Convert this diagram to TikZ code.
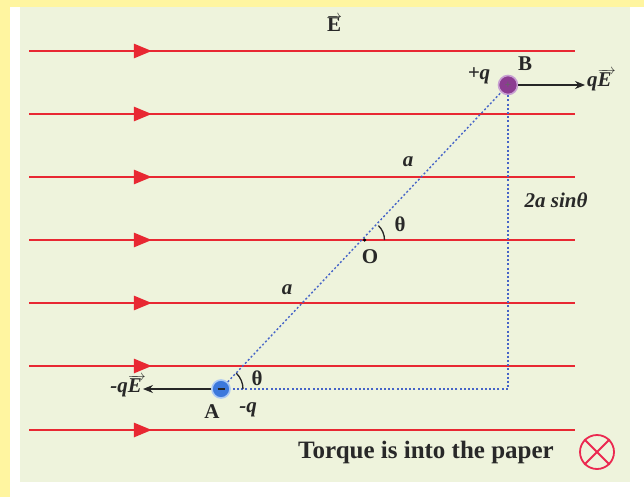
\documentclass[tikz,border=0pt]{standalone}
\usepackage{fontspec}
\setmainfont{Liberation Serif}
\usetikzlibrary{arrows.meta,decorations.markings,calc}
\definecolor{panel}{RGB}{238,243,220}
\definecolor{ybord}{RGB}{255,245,160}
\definecolor{fieldred}{RGB}{232,40,50}
\definecolor{dotblue}{RGB}{70,100,200}
\definecolor{bpurple}{RGB}{140,60,145}
\definecolor{bring}{RGB}{200,160,210}
\definecolor{ablue}{RGB}{60,120,220}
\definecolor{aring}{RGB}{170,200,245}
\definecolor{txt}{RGB}{40,40,40}
\definecolor{otimes}{RGB}{235,40,80}
\newsavebox\vecbx
\newcommand{\vecbf}[2][0pt]{\sbox\vecbx{#2}\leavevmode\vbox{\offinterlineskip\hbox to\wd\vecbx{\hss\fontsize{14}{14}\selectfont\rightarrowfill\kern-1pt\kern#1}\kern-2.5pt\box\vecbx}}
\tikzset{
  x=1pt,y=-1pt,
  fieldline/.style={draw=fieldred,line width=2.8pt,
    postaction={decorate},
    decoration={markings,mark=at position 0.225 with {\arrow{Triangle[length=18pt,width=14pt,fill=fieldred]}}}},
  dotline/.style={draw=dotblue,line width=1.4pt,dash pattern=on 2pt off 2.2pt},
  lbl/.style={font=\bfseries\fontsize{21}{21}\selectfont,text=txt,inner sep=0pt},
  ilbl/.style={font=\bfseries\itshape\fontsize{21}{21}\selectfont,text=txt,inner sep=0pt},
  chargeB/.style={circle,fill=bpurple,draw=bring,line width=1.6pt,minimum size=19pt,inner sep=0pt},
  chargeA/.style={circle,fill=ablue,draw=aring,line width=1.6pt,minimum size=18pt,inner sep=0pt},
  force/.style={draw=black!85,line width=1.1pt,-{Stealth[length=10pt,width=8pt]}},
  anglearc/.style={draw=black!85,line width=1.3pt}
}
\begin{document}
\begin{tikzpicture}
\useasboundingbox (0,0) rectangle (644,497);
\fill[white] (0,0) rectangle (644,497);
\fill[ybord] (0,0) rectangle (644,7);
\fill[ybord] (0,0) rectangle (10,497);
\fill[panel] (20,7) rectangle (630,482);
% field lines
\foreach \yy in {51,114,177,240,303,366,430}{
  \path[fieldline] (29,\yy) -- (575,\yy);
}
\node[lbl] (E) at (334,23) {\vecbf{E}};
% charges
\node[chargeB] (B) at (508,85) {};
\node[text=black!60,font=\bfseries\fontsize{11}{11}\selectfont,inner sep=0pt] (Bp) at (B) {+};
\node[chargeA] (A) at (221,389) {};
\draw[black!85,line width=1.6pt] ($(A)+(-3.5,0)$) -- ($(A)+(3.5,0)$);
\coordinate (C) at (508,389);
\node[circle,fill=black,inner sep=0pt,minimum size=3.5pt] (O) at (364.5,240) {};
% dotted lines
\draw[dotline] (A) -- (B);
\draw[dotline] (B.south) -- (C) -- (A.east);
% forces
\coordinate (qEend) at (585,85);
\draw[force] (B.east) -- (qEend);
\node[ilbl,anchor=west] (qE) at (587,80) {q\vecbf[-3pt]{E}};
\coordinate (mqEend) at (143,389);
\draw[force] (A.west) -- (mqEend);
\node[ilbl,anchor=east] (mqE) at (142,386) {-q\vecbf[-3pt]{E}};
% labels
\node[ilbl] (pq) at (479,76) {+q};
\node[lbl] (Bl) at (525,64) {B};
\node[lbl] (Al) at (212,412) {A};
\node[ilbl] (mq) at (248,410) {-q};
\node[lbl] (O1) at (370,257) {O};
\node[ilbl] (a1) at (408,162) {a};
\node[ilbl] (a2) at (287,290) {a};
\node[ilbl] (sin) at (556,200) {2a sinθ};
% angles
\draw[anglearc] ($(O)+(-46:20)$) arc[start angle=-46,end angle=0,radius=20];
\node[lbl] (th1) at (400,224) {θ};
\draw[anglearc] ($(A)+(-46:22)$) arc[start angle=-46,end angle=0,radius=22];
\node[lbl] (th2) at (257,378) {θ};
% torque
\node[lbl,font=\bfseries\fontsize{25}{25}\selectfont] (tq) at (426,452) {Torque is into the paper};
\node[circle,draw=otimes,line width=1.8pt,minimum size=34pt,inner sep=0pt] (ot) at (597,452) {};
\draw[otimes,line width=1.8pt] (ot.45) -- (ot.225) (ot.135) -- (ot.315);
\end{tikzpicture}
\end{document}
